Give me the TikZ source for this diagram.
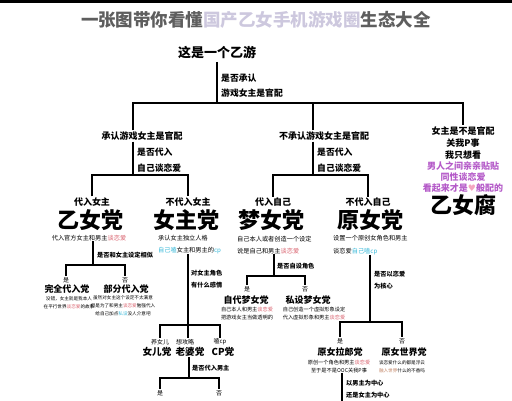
\documentclass[tikz,border=0pt]{standalone}
\usepackage{fontspec}
\setmainfont{Noto Sans CJK SC}
\newfontfamily\symfont{DejaVu Sans}

\definecolor{titlegray}{HTML}{5E5E5E}
\definecolor{titlelav}{HTML}{CDC8DE}
\definecolor{lovered}{HTML}{D8606C}
\definecolor{cpblue}{HTML}{38B8D8}
\definecolor{fupurple}{HTML}{B45AC8}
\definecolor{heartpink}{HTML}{F4A6C0}
\definecolor{worldbrown}{HTML}{C08060}

\newcommand{\love}[1]{\textcolor{lovered}{#1}}
\newcommand{\ship}[1]{\textcolor{cpblue}{#1}}

\tikzset{
  tree/.style={line width=2pt},
  title/.style={font=\fontsize{17.5}{20}\selectfont\bfseries},
  top/.style={font=\fontsize{13}{15}\selectfont\bfseries},
  branch/.style={font=\fontsize{9}{11}\selectfont\bfseries, inner sep=1pt},
  ask/.style={font=\fontsize{8.8}{15.5}\selectfont\bfseries, align=left, anchor=west, inner sep=0pt},
  party/.style={font=\fontsize{22}{24}\selectfont\bfseries, inner sep=0pt},
  note/.style={font=\fontsize{6.2}{12.5}\selectfont, align=left, anchor=west, inner sep=0pt},
  subask/.style={font=\fontsize{6.2}{12}\selectfont\bfseries, align=left, anchor=west, inner sep=0pt},
  yesno/.style={font=\fontsize{6}{7}\selectfont, inner sep=1pt},
  faction/.style={font=\fontsize{9}{10}\selectfont\bfseries, inner sep=0.5pt},
  tiny/.style={font=\fontsize{4.6}{8}\selectfont, align=center, inner sep=0.5pt},
}

\begin{document}
\begin{tikzpicture}[x=1pt,y=-1pt]
  \useasboundingbox (0,0) rectangle (512,400);
  \fill (0,0) rectangle (512,2.5);

  \node[title] (title) at (256,20) {\textcolor{titlegray}{一张图带你看懂}\textcolor{titlelav}{国产乙女手机游戏圈}\textcolor{titlegray}{生态大全}};

  % first split
  \node[top] (root) at (217,52) {这是一个乙游};
  \node[ask] (q1) at (221,85.5) {是否承认\\游戏女主是官配};
  \coordinate (s0) at (217,103);
  \coordinate (sa) at (133,175);
  \coordinate (sb) at (313,175);

  \node[branch] (a) at (142,136) {承认游戏女主是官配};
  \node[branch] (b) at (324,136) {不承认游戏女主是官配};
  \node[branch, align=center, font=\fontsize{9}{12}\selectfont\bfseries] (c) at (463,143) {女主是不是官配\\关我P事\\我只想看};
  \node[branch, align=center, font=\fontsize{9}{11}\selectfont\bfseries, text=fupurple] (fu) at (463,177.5) {男人之间亲亲贴贴\\同性谈恋爱\\看起来才是{\symfont\textcolor{heartpink}{♥}}般配的};
  \node[party] (yifu) at (463,205) {乙女腐};

  \draw[tree] (root) -- (s0);
  \draw[tree] (a.north -| sa) |- (s0) -| (c.north);
  \draw[tree] (b.north -| sb) -- (s0 -| sb);

  % second split
  \node[ask] (q2) at (137,160) {是否代入\\自己谈恋爱};
  \node[ask] (q3) at (317,160) {是否代入\\自己谈恋爱};

  \node[branch] (p1) at (92,202) {代入女主};
  \node[party] (g1) at (90,220) {乙女党};
  \node[note, anchor=center] (d1) at (89,238) {代入官方女主和男主\love{谈恋爱}};

  \node[branch] (p2) at (188,202) {不代入女主};
  \node[party] (g2) at (186,220) {女主党};
  \node[note] (d2) at (158,244.5) {承认女主独立人格\\\ship{自己嗑}女主和男主的\ship{cp}};

  \node[branch] (p3) at (273,202) {代入自己};
  \node[party] (g3) at (271,220) {梦女党};
  \node[note] (d3) at (237,245) {自己本人或者创造一个设定\\说是自己和男主\love{谈恋爱}};

  \node[branch] (p4) at (368,202) {不代入自己};
  \node[party] (g4) at (370,220) {原女党};
  \node[note] (d4) at (333,245) {设置一个原创女角色和男主\\谈恋爱\ship{自己嗑cp}};

  \draw[tree] (a.south -| sa) -- (sa);
  \draw[tree] (p1.north) |- (sa) -| (p2.north);
  \draw[tree] (b.south -| sb) -- (sb);
  \draw[tree] (p3.north) |- (sb) -| (p4.north);

  % under yinv dang
  \coordinate (sc) at (93,265);
  \node[subask] (q4) at (97,255) {是否和女主设定相似};
  \node[yesno] (y1) at (66,280) {是};
  \node[faction] (f1) at (67,289) {完全代入党};
  \node[tiny] (t1) at (69,302.5) {没错，女主就是我本人\\在平行世界\love{谈恋爱}的故事};
  \node[yesno] (n1) at (125,280) {否};
  \node[faction] (f2) at (126,289) {部分代入党};
  \node[tiny] (t2) at (123,306) {虽然对女主这个设定不太满意\\但是为了和男主\love{谈恋爱}勉强代入\\给自己加点\ship{私设}没人介意吧};
  \draw[tree] (d1.south -| sc) -- (sc);
  \draw[tree] (y1.north) |- (sc) -| (n1.north);

  % under nvzhu dang
  \coordinate (sd) at (188,325);
  \node[subask] (q5) at (191,279.5) {对女主角色\\有什么感情};
  \node[yesno] (r1) at (160,342) {养女儿};
  \node[faction, font=\fontsize{9.6}{10}\selectfont\bfseries] (w1) at (157,352) {女儿党};
  \node[yesno] (r2) at (185,342) {想攻略};
  \node[faction, font=\fontsize{9.6}{10}\selectfont\bfseries] (w2) at (190,352) {老婆党};
  \node[yesno] (r3) at (220,342) {嗑cp};
  \node[faction, font=\fontsize{9.6}{10}\selectfont\bfseries] (w3) at (223,352) {CP党};
  \draw[tree] (d2.south -| sd) -- (sd);
  \draw[tree] (r1.north) |- (sd) -| (r3.north);
  \draw[tree] (sd) -- (r2.north -| sd);

  \coordinate (sg) at (189,378);
  \node[subask] (q6) at (192,368) {是否代入男主};
  \node[yesno] (y4) at (160,393) {是};
  \node[yesno] (n4) at (219,393) {否};
  \node[faction] (b1) at (159,406) {男主代入党};
  \node[faction] (b2) at (219,406) {旁观看戏党};
  \draw[tree] (w2.south -| sg) -- (sg);
  \draw[tree] (y4.north) |- (sg) -| (n4.north);

  % under mengnv dang
  \coordinate (se) at (274,276);
  \node[subask] (q7) at (277,266) {是否自设角色};
  \node[yesno] (y2) at (247,289) {是};
  \node[faction] (f3) at (246,300) {自代梦女党};
  \node[tiny, font=\fontsize{5.2}{7.5}\selectfont] (t3) at (247,313.5) {自己本人和男主\love{谈恋爱}\\把游戏女主当做透明的};
  \node[yesno] (n2) at (305,289) {否};
  \node[faction] (f4) at (308,300) {私设梦女党};
  \node[tiny, font=\fontsize{5.2}{7.5}\selectfont] (t4) at (314,313.5) {自己创造一个虚拟形象设定\\代入虚拟形象和男主\love{谈恋爱}};
  \draw[tree] (d3.south -| se) -- (se);
  \draw[tree] (y2.north) |- (se) -| (n2.north);

  % under yuannv dang
  \coordinate (sf) at (370,322);
  \node[subask] (q8) at (374,280) {是否以恋爱\\为核心};
  \node[yesno] (y3) at (340,341) {是};
  \node[faction] (f5) at (340,352) {原女拉郎党};
  \node[tiny, font=\fontsize{5.2}{7.5}\selectfont] (t5) at (339,366.5) {原创一个角色和男主\love{谈恋爱}\\至于是不是OOC关我P事};
  \node[yesno] (n3) at (402,341) {否};
  \node[faction] (f6) at (404,352) {原女世界党};
  \node[tiny, font=\fontsize{4.6}{7.5}\selectfont] (t6) at (402,366.5) {谈恋爱什么的都是浮云\\\textcolor{worldbrown}{融入世界}什么的不香吗};
  \draw[tree] (d4.south -| sf) -- (sf);
  \draw[tree] (y3.north) |- (sf) -| (n3.north);

  \coordinate (sh) at (342,410);
  \node[subask] (q9) at (346,389) {以男主为中心\\还是女主为中心};
  \draw[tree] (t5.south -| sh) -- (sh);
\end{tikzpicture}
\end{document}
